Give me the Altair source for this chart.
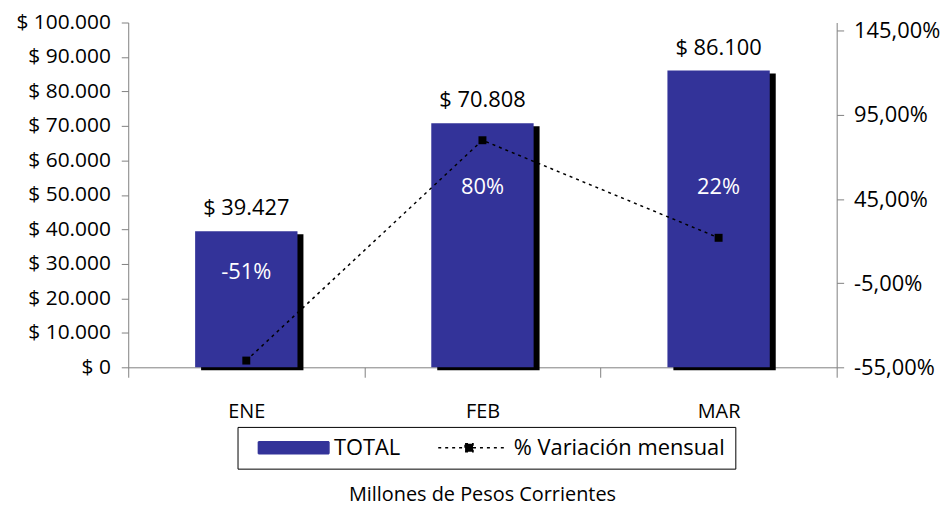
import altair as alt
import pandas as pd

# ---- data ----
months = ["ENE", "FEB", "MAR"]
totals = [39427, 70808, 86100]            # millones de pesos
variation = [-0.51, 0.80, 0.22]           # % variación mensual
pct_label_at = [27700, 52200, 52200]      # where the % labels sit (in $ units)
left_ticks = [0, 10000, 20000, 30000, 40000, 50000, 60000, 70000, 80000, 90000, 100000]
right_ticks = [-0.55, -0.05, 0.45, 0.95, 1.45]
series_names = ["TOTAL", "% Variación mensual"]
footer = "Millones de Pesos Corrientes"

df = pd.DataFrame({"mes": months, "total": totals, "var": variation, "pct_y": pct_label_at})

FONT = "Open Sans"
AX = "#808080"
BLUE = "#333399"

x = alt.X(
    "mes:N", sort=months, title=None,
    scale=alt.Scale(paddingInner=0, paddingOuter=0),
    axis=alt.Axis(labelAngle=0, labelFont=FONT, labelFontSize=20, labelColor="black",
                  tickSize=10, labelPadding=25, domainColor=AX, tickColor=AX,
                  tickBand="extent"),
)

left_axis = alt.Axis(values=left_ticks, format="$,.0f", title=None, grid=False,
                     labelFont=FONT, labelFontSize=21, labelColor="black",
                     tickSize=7, labelPadding=11, domainColor=AX, tickColor=AX)
left_scale = alt.Scale(domain=[0, 100000], nice=False)

right_axis = alt.Axis(orient="right", values=right_ticks, format=".2%", title=None, grid=False,
                      labelFont=FONT, labelFontSize=22, labelColor="black",
                      tickSize=7, labelPadding=10, domainColor=AX, tickColor=AX)
right_scale = alt.Scale(domain=[-0.55, 1.50], nice=False, zero=False)

legend = alt.Legend(
    title=None, orient="none", legendX=110, legendY=407, direction="horizontal",
    strokeColor="black", fillColor="white", padding=10,
    symbolSize=400, symbolOpacity=1, symbolStrokeWidth=1.5,
    labelOffset=65, columnPadding=27,
    labelFont=FONT, labelFontSize=22, labelColor="black", labelLimit=500,
)
swatch_path = "M0,-0.6H7.1V0.6H0Z"
line_path = "M0,0H6.8M2.7,-0.4H3.5V0.4H2.7Z"
leg_fill = alt.Fill("serie:N", scale=alt.Scale(domain=series_names, range=[BLUE, "#000000"]), legend=legend)
leg_stroke = alt.Stroke("serie:N", scale=alt.Scale(domain=series_names, range=[BLUE, "#000000"]), legend=legend)
leg_shape = alt.Shape("serie:N", scale=alt.Scale(domain=series_names, range=[swatch_path, line_path]), legend=legend)
leg_dash = alt.StrokeDash("serie:N", scale=alt.Scale(domain=series_names, range=[[1, 0], [3, 4]]), legend=legend)

base = alt.Chart(df)

shadow = base.mark_bar(color="black", size=103, xOffset=6, yOffset=3).encode(
    x=x, y=alt.Y("total:Q", scale=left_scale, axis=left_axis))

bars = base.mark_bar(size=103, color=BLUE).encode(
    x=x, y=alt.Y("total:Q", scale=left_scale, axis=left_axis))

value_labels = base.mark_text(dy=-16, baseline="alphabetic", font=FONT, fontSize=22, color="black").encode(
    x=x, y=alt.Y("total:Q", scale=left_scale, axis=left_axis),
    text=alt.Text("total:Q", format="$,.0f"))

pct_labels = base.mark_text(baseline="middle", font=FONT, fontSize=22, color="white").encode(
    x=x, y=alt.Y("pct_y:Q", scale=left_scale, axis=left_axis),
    text=alt.Text("var:Q", format=".0%"))

line = base.mark_line(strokeDash=[3, 4], strokeWidth=1.5, color="black").encode(
    x=x, y=alt.Y("var:Q", scale=right_scale, axis=right_axis))

points = base.mark_point(shape="square", size=64, filled=True, color="black", opacity=1).encode(
    x=x, y=alt.Y("var:Q", scale=right_scale, axis=right_axis))

# invisible layer that only carries the legend
legend_layer = base.transform_calculate(serie=f"'{series_names[1]}'").mark_point(
    opacity=0, filled=True).encode(
    x=x, y=alt.Y("var:Q", scale=right_scale, axis=right_axis),
    fill=leg_fill, stroke=leg_stroke, shape=leg_shape, strokeDash=leg_dash)

left = alt.layer(shadow, bars, value_labels, pct_labels)
right = alt.layer(line, points, legend_layer)

chart = alt.layer(left, right).resolve_scale(y="independent").properties(
    width=713, height=347,
    padding={"left": 7, "top": 2, "right": 2, "bottom": 2},
    title=alt.TitleParams(footer, orient="bottom", anchor="middle", frame="group",
                          font=FONT, fontSize=20, fontWeight="normal", color="black", offset=16),
).configure(
    locale={"number": {"decimal": ",", "thousands": ".", "grouping": [3],
                       "currency": ["$ ", ""], "minus": "-"}},
).configure_view(stroke=None)

chart.save("out.html", embed_options={"renderer": "svg", "actions": False})
